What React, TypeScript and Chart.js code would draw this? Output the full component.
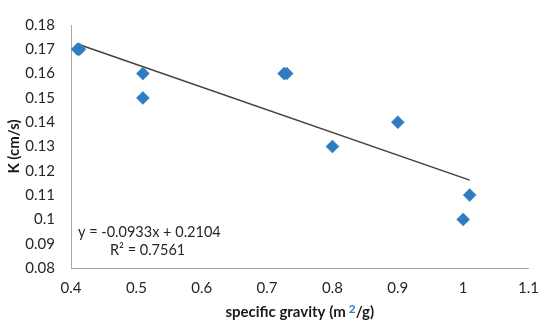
import React, { useEffect, useRef } from "react";
import { Chart, registerables } from "chart.js";

Chart.register(...registerables);

const surfaceArea = [0.41, 0.413, 0.51, 0.51, 0.726, 0.73, 0.8, 0.9, 1.0, 1.01];
const kValues = [0.17, 0.17, 0.16, 0.15, 0.16, 0.16, 0.13, 0.14, 0.1, 0.11];
const trendSlope = -0.0933;
const trendIntercept = 0.2104;
const equationLines = ["y = -0.0933x + 0.2104", "R\u00b2 = 0.7561"];
const xTitleParts = ["specific gravity (m", "2", "/g)"];
const yTitle = "K (cm/s)";

const FONT = "Lato, 'Open Sans', sans-serif";

export default function App() {
  const ref = useRef<HTMLCanvasElement | null>(null);

  useEffect(() => {
    document.body.style.margin = "0";
    const canvas = ref.current;
    if (!canvas) return;
    const xMin = Math.min(...surfaceArea);
    const xMax = Math.max(...surfaceArea);
    const trend = [
      { x: xMin, y: trendSlope * xMin + trendIntercept },
      { x: xMax, y: trendSlope * xMax + trendIntercept },
    ];
    const points = surfaceArea.map((x, i) => ({ x, y: kValues[i] }));

    const textPlugin = {
      id: "textPlugin",
      afterDraw(chart: any) {
        const ctx = chart.ctx as CanvasRenderingContext2D;
        const area = chart.chartArea;
        ctx.save();
        // equation
        ctx.fillStyle = "#262626";
        ctx.font = `14.5px ${FONT}`;
        ctx.textBaseline = "middle";
        ctx.textAlign = "left";
        ctx.fillText(equationLines[0], area.left + 7, area.bottom - 36);
        ctx.fillText(equationLines[1], area.left + 39, area.bottom - 18);
        // x title
        ctx.font = `bold 15px ${FONT}`;
        const w0 = ctx.measureText(xTitleParts[0]).width;
        ctx.font = `bold 12px ${FONT}`;
        const w1 = ctx.measureText(xTitleParts[1]).width;
        ctx.font = `bold 15px ${FONT}`;
        const w2 = ctx.measureText(xTitleParts[2]).width;
        const gap = 3;
        const total = w0 + gap + w1 + w2;
        let x = (area.left + area.right) / 2 - total / 2;
        const y = 312;
        ctx.fillStyle = "#1a1a1a";
        ctx.fillText(xTitleParts[0], x, y);
        x += w0 + gap;
        ctx.font = `bold 12px ${FONT}`;
        ctx.fillStyle = "#2E7CC2";
        ctx.fillText(xTitleParts[1], x, y - 3);
        x += w1;
        ctx.font = `bold 15px ${FONT}`;
        ctx.fillStyle = "#1a1a1a";
        ctx.fillText(xTitleParts[2], x, y);
        ctx.restore();
      },
    };

    const fmt = (v: any) => String(Number(Number(v).toFixed(2)));

    const chart = new Chart(canvas, {
      type: "scatter",
      data: {
        datasets: [
          {
            label: "K",
            data: points,
            pointStyle: "rectRot",
            pointRadius: 6.5,
            pointHoverRadius: 6.5,
            backgroundColor: "#2E7CC2",
            borderColor: "#2E7CC2",
            borderWidth: 0.5,
            order: 1,
          },
          {
            label: "trend",
            type: "line",
            data: trend,
            borderColor: "#404040",
            borderWidth: 1.5,
            pointRadius: 0,
            fill: false,
            order: 2,
          } as any,
        ],
      },
      plugins: [textPlugin],
      options: {
        animation: false,
        responsive: false,
        maintainAspectRatio: false,
        layout: { padding: { left: 0, right: 17, top: 14, bottom: 0 } },
        plugins: {
          legend: { display: false },
          tooltip: { enabled: false },
        },
        scales: {
          x: {
            type: "linear",
            min: 0.4,
            max: 1.1,
            grid: { display: false, drawTicks: false },
            border: { display: true, color: "#a6a6a6", width: 1 },
            ticks: {
              stepSize: 0.1,
              padding: 11,
              color: "#262626",
              font: { family: FONT, size: 15 },
              callback: fmt,
            },
            afterFit: (s: any) => {
              s.height = 59;
            },
          },
          y: {
            type: "linear",
            min: 0.08,
            max: 0.18,
            grid: { display: false, drawTicks: false },
            border: { display: true, color: "#a6a6a6", width: 1 },
            ticks: {
              stepSize: 0.01,
              padding: 16,
              color: "#262626",
              font: { family: FONT, size: 15 },
              callback: fmt,
            },
            title: {
              display: true,
              text: yTitle,
              color: "#1a1a1a",
              font: { family: FONT, size: 15, weight: "bold" },
              padding: { top: 5, bottom: 0 },
            },
            afterFit: (s: any) => {
              s.width = 71;
            },
          },
        },
      },
    });
    return () => chart.destroy();
  }, []);

  return (
    <div style={{ width: 550, height: 327 }}>
      <canvas ref={ref} width={550} height={327} />
    </div>
  );
}
